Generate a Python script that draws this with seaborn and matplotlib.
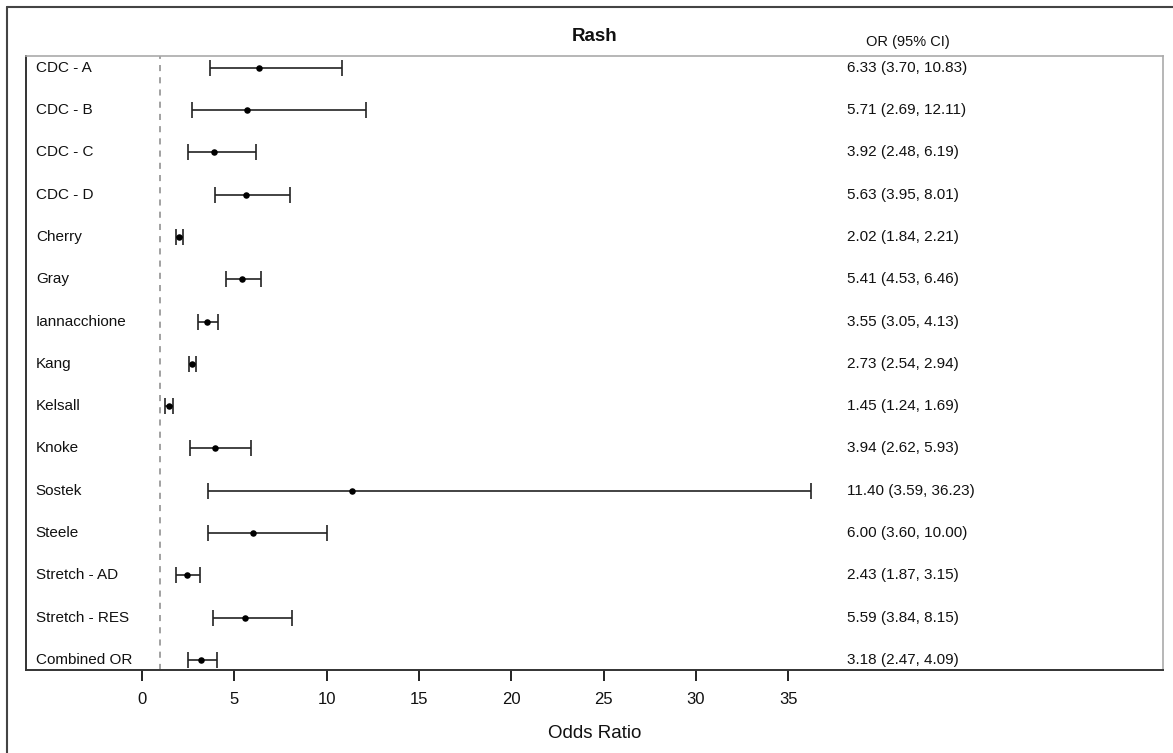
import matplotlib
matplotlib.use("Agg")
import matplotlib.pyplot as plt
from matplotlib.lines import Line2D
import pandas as pd
import seaborn as sns

studies = ["CDC - A", "CDC - B", "CDC - C", "CDC - D", "Cherry", "Gray",
           "Iannacchione", "Kang", "Kelsall", "Knoke", "Sostek", "Steele",
           "Stretch - AD", "Stretch - RES", "Combined OR"]
odds = [6.33, 5.71, 3.92, 5.63, 2.02, 5.41, 3.55, 2.73, 1.45, 3.94, 11.40,
        6.00, 2.43, 5.59, 3.18]
ci_low = [3.70, 2.69, 2.48, 3.95, 1.84, 4.53, 3.05, 2.54, 1.24, 2.62, 3.59,
          3.60, 1.87, 3.84, 2.47]
ci_high = [10.83, 12.11, 6.19, 8.01, 2.21, 6.46, 4.13, 2.94, 1.69, 5.93, 36.23,
           10.00, 3.15, 8.15, 4.09]
x_ticks = [0, 5, 10, 15, 20, 25, 30, 35]

df = pd.DataFrame({"study": studies, "or": odds, "lo": ci_low, "hi": ci_high})
df["row"] = range(len(df))

sns.set_theme(style="ticks")
plt.rcParams["font.family"] = ["Liberation Sans", "DejaVu Sans"]
plt.rcParams["text.color"] = "#111111"
plt.rcParams["axes.labelcolor"] = "#111111"
plt.rcParams["xtick.major.size"] = 8
plt.rcParams["xtick.major.width"] = 1.4
plt.rcParams["xtick.color"] = "#222222"
plt.rcParams["xtick.labelcolor"] = "#111111"

fig = plt.figure(figsize=(11.73, 7.53), dpi=100)
ax = fig.add_axes([26 / 1173, 1 - 670 / 753, (1163 - 26) / 1173, (670 - 56) / 753])

# reference line at OR = 1
ax.axvline(1, color="#888888", ls=(0, (4, 4)), lw=1.1, zorder=1)

ax.errorbar(df["or"], df["row"],
            xerr=[df["or"] - df["lo"], df["hi"] - df["or"]],
            fmt="none", ecolor="#222222", elinewidth=1.2, capsize=6, capthick=1.2, zorder=2)
sns.scatterplot(data=df, x="or", y="row", ax=ax, color="black", s=22,
                edgecolor="black", linewidth=0, zorder=3, legend=False)

ax.set_xlim(-6.28, 55.3)
ax.set_ylim(len(df) - 1 + 0.24, -0.28)

for _, r in df.iterrows():
    ax.text(-5.75, r["row"], r["study"], ha="left", va="center", fontsize=11)
    ax.text(38.2, r["row"], f"{r['or']:.2f} ({r['lo']:.2f}, {r['hi']:.2f})",
            ha="left", va="center", fontsize=11)

ax.text(41.5, -0.45, "OR (95% CI)", ha="center", va="bottom", fontsize=10.5)
ax.set_title("Rash", fontsize=13.5, fontweight="bold", pad=11)

ax.set_xticks(x_ticks)
ax.set_yticks([])
ax.tick_params(axis="x", which="major", direction="out", length=8, width=1.4,
               color="#222222", labelsize=12, pad=8, bottom=True)
ax.tick_params(axis="y", left=False)
ax.set_xlabel("Odds Ratio", fontsize=13.5, labelpad=13)
ax.set_ylabel("")

for side in ["bottom", "left"]:
    ax.spines[side].set_visible(True)
    ax.spines[side].set_color("#333333")
    ax.spines[side].set_linewidth(1.4)
for side in ["top", "right"]:
    ax.spines[side].set_visible(True)
    ax.spines[side].set_color("#aaaaaa")
    ax.spines[side].set_linewidth(1.2)

# outer frame (top and left only)
fig.add_artist(Line2D([7 / 1173, 1], [1 - 7 / 753, 1 - 7 / 753], color="#444444", lw=1.5,
                      transform=fig.transFigure))
fig.add_artist(Line2D([7 / 1173, 7 / 1173], [0, 1 - 7 / 753], color="#444444", lw=1.5,
                      transform=fig.transFigure))

fig.savefig("out.png", dpi=100)
